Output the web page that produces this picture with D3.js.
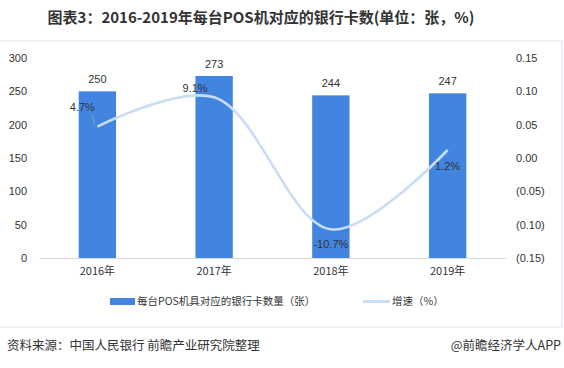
<!DOCTYPE html>
<html><head><meta charset="utf-8">
<script src="https://cdn.jsdelivr.net/npm/d3@7"></script>
<style>
body{margin:0;background:#fff;}
svg text{font-family:"Liberation Sans","Noto Sans CJK SC",sans-serif;}
</style></head>
<body><svg id="c" width="564" height="368"></svg>
<script>
const categories = ["2016年","2017年","2018年","2019年"];
const cardCounts = [250,273,244,247];
const growth = [0.047,0.091,-0.107,0.012];
const growthLabels = ["4.7%","9.1%","-10.7%","1.2%"];
const leftTicks = [0,50,100,150,200,250,300];
const rightTicks = [0.15,0.10,0.05,0.00,-0.05,-0.10,-0.15];
const rightTickLabels = ["0.15","0.10","0.05","0.00","(0.05)","(0.10)","(0.15)"];

const svg = d3.select("#c");
const cjk = '"Noto Sans CJK SC","Liberation Sans",sans-serif';

// frame
svg.append("rect").attr("x",-2).attr("y",41).attr("width",564).attr("height",286)
  .attr("fill","none").attr("stroke","#eceff3").attr("stroke-width",2);

// title
svg.append("text").attr("x",261).attr("y",23).attr("text-anchor","middle")
  .style("font-family",cjk).style("font-weight","bold").style("font-size","15px").attr("fill","#333")
  .text("图表3：2016-2019年每台POS机对应的银行卡数(单位：张，%)");

const x = d3.scaleBand().domain(categories).range([39,506]).paddingInner(0.68).paddingOuter(0.34);
const yL = d3.scaleLinear().domain([0,300]).range([258,58]);
const yR = d3.scaleLinear().domain([-0.15,0.15]).range([258,58]);

// left axis
const la = svg.append("g").attr("transform","translate(33,0)")
  .call(d3.axisLeft(yL).tickValues(leftTicks).tickSize(0).tickPadding(6));
la.select(".domain").remove();
la.selectAll("text").style("font-size","11px").attr("fill","#333");

// right axis
const ra = svg.append("g").attr("transform","translate(510,0)")
  .call(d3.axisRight(yR).tickValues(rightTicks).tickSize(0).tickPadding(6)
    .tickFormat((d,i)=>rightTickLabels[i]));
ra.select(".domain").remove();
ra.selectAll("text").style("font-size","11px").attr("fill","#333");

// bars
svg.selectAll(".bar").data(categories).enter().append("rect")
  .attr("x",d=>x(d)).attr("width",x.bandwidth())
  .attr("y",(d,i)=>yL(cardCounts[i])).attr("height",(d,i)=>yL(0)-yL(cardCounts[i]))
  .attr("fill","#4285e0");

// baseline
const ba = svg.append("g").attr("transform","translate(0,258)")
  .call(d3.axisBottom(x).tickSize(0).tickPadding(9));
ba.select(".domain").attr("stroke","#d9d9d9");
ba.selectAll("text").style("font-family",cjk).style("font-size","11px").attr("fill","#333");

// bar labels
svg.selectAll(".bl").data(categories).enter().append("text")
  .attr("x",d=>x(d)+x.bandwidth()/2).attr("y",(d,i)=>yL(cardCounts[i])-8)
  .attr("text-anchor","middle").style("font-size","11px").attr("fill","#333")
  .text((d,i)=>cardCounts[i]);

// growth line
const pts = categories.map((c,i)=>[x(c)+x.bandwidth()/2, yR(growth[i])]);
svg.append("path").attr("d",d3.line().curve(d3.curveCatmullRom.alpha(0.5))(pts))
  .attr("fill","none").attr("stroke","#c9def5").attr("stroke-width",2.6);

// leader line for first label
svg.append("line").attr("x1",pts[0][0]-5).attr("y1",yR(growth[0])-12)
  .attr("x2",pts[0][0]-3).attr("y2",yR(growth[0])-2).attr("stroke","#a6a6a6").attr("stroke-width",0.8);

const offs = [[-15,-16],[-19,-5],[0,19],[0,20]];
svg.selectAll(".gl").data(categories).enter().append("text")
  .attr("x",(d,i)=>pts[i][0]+offs[i][0]).attr("y",(d,i)=>pts[i][1]+offs[i][1])
  .attr("text-anchor","middle").style("font-size","11px").attr("fill","#333")
  .text((d,i)=>growthLabels[i]);

// legend
svg.append("rect").attr("x",110).attr("y",298).attr("width",25).attr("height",7).attr("fill","#4285e0");
svg.append("text").attr("x",137).attr("y",305).style("font-family",cjk).style("font-size","10.5px").attr("fill","#333")
  .text("每台POS机具对应的银行卡数量（张）");
svg.append("line").attr("x1",363).attr("x2",390).attr("y1",301.5).attr("y2",301.5).attr("stroke","#c9def5").attr("stroke-width",3);
svg.append("text").attr("x",392).attr("y",305).style("font-family",cjk).style("font-size","10.5px").attr("fill","#333")
  .text("增速（%）");

// footer
svg.append("text").attr("x",7).attr("y",350).style("font-family",cjk).style("font-size","12.5px").attr("fill","#333")
  .text("资料来源：中国人民银行 前瞻产业研究院整理");
svg.append("text").attr("x",561).attr("y",350).attr("text-anchor","end").style("font-family",cjk).style("font-size","12.5px").attr("fill","#333")
  .text("@前瞻经济学人APP");
</script></body></html>
